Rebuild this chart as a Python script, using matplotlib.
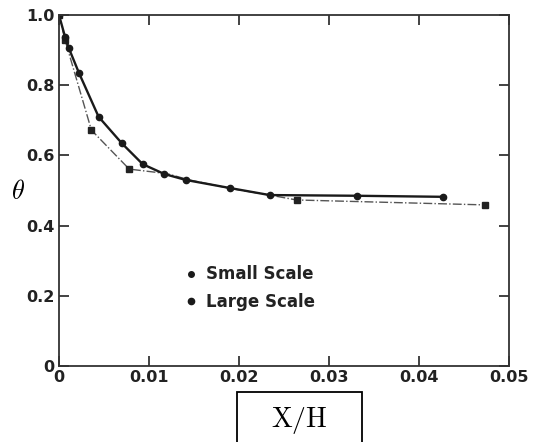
import matplotlib
matplotlib.use('Agg')
import matplotlib.pyplot as plt
from matplotlib.patches import Rectangle
from matplotlib.lines import Line2D

plt.rcParams['mathtext.fontset'] = 'cm'
plt.rcParams['font.family'] = ['DejaVu Sans']

# small scale (solid line, circles)
small_x = [0.0, 0.00067, 0.0011, 0.0022, 0.0044, 0.0070, 0.0093, 0.0117, 0.0141, 0.0190, 0.0234, 0.0331, 0.0427]
small_y = [1.0, 0.938, 0.905, 0.836, 0.710, 0.634, 0.575, 0.547, 0.530, 0.507, 0.487, 0.485, 0.482]

# large scale (dash-dot line, squares)
large_x = [0.0, 0.00067, 0.0036, 0.0078, 0.0120, 0.0145, 0.0190, 0.0234, 0.0264, 0.0473]
large_y = [1.0, 0.929, 0.672, 0.561, 0.548, 0.530, 0.506, 0.487, 0.473, 0.459]
large_marked = [0, 1, 2, 3, 8, 9]

xticks = [0, 0.01, 0.02, 0.03, 0.04, 0.05]
xtick_labels = ['0', '0.01', '0.02', '0.03', '0.04', '0.05']
yticks = [0, 0.2, 0.4, 0.6, 0.8, 1.0]
ytick_labels = ['0', '0.2', '0.4', '0.6', '0.8', '1.0']

fig = plt.figure(figsize=(5.4, 4.42), dpi=100)
ax = fig.add_axes([59/540, 1-366/442, 450/540, 351/442])

ax.plot(large_x, large_y, color='#555555', lw=1.0, ls='-.', marker='s', ms=5,
        mfc='#222222', mec='#222222', markevery=large_marked)
ax.plot(small_x, small_y, color='#1a1a1a', lw=1.7, ls='-', marker='o', ms=4.5,
        mfc='#1a1a1a', mec='#1a1a1a')

ax.set_xlim(0, 0.05)
ax.set_ylim(0, 1.0)
ax.set_xticks(xticks)
ax.set_xticklabels(xtick_labels)
ax.set_yticks(yticks)
ax.set_yticklabels(ytick_labels)
ax.tick_params(direction='in', length=7, width=1.2, top=True, right=True,
               labelsize=11.5, colors='#222222', pad=3)
for lab in ax.get_xticklabels() + ax.get_yticklabels():
    lab.set_fontweight('bold')
for s in ax.spines.values():
    s.set_linewidth(1.3)
    s.set_color('#333333')

handles = [Line2D([], [], ls='none', marker='o', ms=4, color='#1a1a1a'),
           Line2D([], [], ls='none', marker='o', ms=4.5, color='#1a1a1a')]
leg = ax.legend(handles, ['Small Scale', 'Large Scale'], loc='center left',
                bbox_to_anchor=(0.25, 0.222), frameon=False, handlelength=0.5,
                handletextpad=0.7, labelspacing=0.55,
                prop={'size': 12, 'weight': 'bold'})
for t in leg.get_texts():
    t.set_color('#222222')

fig.text(18/540, 1-192/442, r'$\theta$', fontsize=19, ha='center', va='center')

fig.patches.append(Rectangle((237/540, -0.05), 125/540, 0.05 + 1-392/442,
                             transform=fig.transFigure, fill=False,
                             edgecolor='black', lw=1.3))
fig.text(299/540, 1-420/442, r'$\mathrm{X/H}$', fontsize=20, ha='center', va='center')

fig.savefig('out.png', dpi=100)
